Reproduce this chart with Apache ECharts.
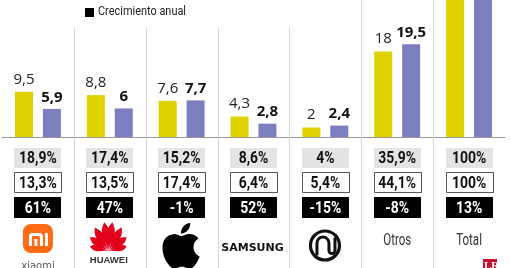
<!DOCTYPE html>
<html><head><meta charset="utf-8">
<script src="https://cdn.jsdelivr.net/npm/echarts/dist/echarts.min.js"></script>
<style>html,body{margin:0;padding:0;background:#fff}#c{width:510px;height:268px}</style>
</head><body><div id="c"></div>
<script>
var categories = ['Xiaomi', 'Huawei', 'Apple', 'Samsung', 'Motorola', 'Otros', 'Total'];
var ventasActual = [9.5, 8.8, 7.6, 4.3, 2, 18, 50.2];
var ventasPrevio = [5.9, 6, 7.7, 2.8, 2.4, 19.5, 44.3];
var cuotaActual = ['18,9%', '17,4%', '15,2%', '8,6%', '4%', '35,9%', '100%'];
var cuotaPrevia = ['13,3%', '13,5%', '17,4%', '6,4%', '5,4%', '44,1%', '100%'];
var crecimientoAnual = ['61%', '47%', '-1%', '52%', '-15%', '-8%', '13%'];
var legendLabel = 'Crecimiento anual';

var COND = 'Roboto, "DejaVu Sans Condensed", sans-serif';
var YELLOW = '#ddd200', PURPLE = '#7b7fbf';
var totalIdx = categories.indexOf('Total');

function fmt(p) { return String(p.value).replace('.', ','); }
function withHiddenTotal(arr) {
  return arr.map(function (v, i) { return i === totalIdx ? { value: v, label: { show: false } } : v; });
}

function tableRow(texts, y, h, bg, stroke, color) {
  return {
    type: 'custom', silent: true, z: 5,
    data: texts.map(function (t, i) { return [i, 0]; }),
    renderItem: function (params, api) {
      var cx = api.coord([api.value(0), 0])[0];
      var w = 47;
      var x0 = Math.round(cx - w / 2) + (stroke ? 0.5 : 0);
      return { type: 'group', children: [
        { type: 'rect', shape: { x: x0, y: y, width: w, height: h },
          style: { fill: bg, stroke: stroke || null, lineWidth: stroke ? 1 : 0 } },
        { type: 'text', x: cx, y: y + h / 2 + 1, scaleX: 0.82,
          style: { text: texts[params.dataIndex], fill: color, font: 'bold 17px ' + COND,
                   align: 'center', verticalAlign: 'middle' } }
      ] };
    }
  };
}

function petal(bx, by, angDeg, L, W) {
  var a = angDeg * Math.PI / 180, dx = Math.sin(a), dy = -Math.cos(a), nx = Math.cos(a), ny = Math.sin(a);
  var pts = [], N = 16, s, t, h;
  for (s = 0; s <= N; s++) { t = s / N; h = W / 2 * Math.sin(Math.PI * Math.pow(t, 1.6)); pts.push([bx + dx * L * t + nx * h, by + dy * L * t + ny * h]); }
  for (s = N; s >= 0; s--) { t = s / N; h = W / 2 * Math.sin(Math.PI * Math.pow(t, 1.6)); pts.push([bx + dx * L * t - nx * h, by + dy * L * t - ny * h]); }
  return pts;
}

var APPLE = 'M12.152 6.896c-.948 0-2.415-1.078-3.96-1.04-2.04.027-3.91 1.183-4.961 3.014-2.117 3.675-.546 9.103 1.519 12.09 1.013 1.454 2.208 3.09 3.792 3.039 1.52-.065 2.09-.987 3.935-.987 1.831 0 2.35.987 3.96.948 1.637-.026 2.676-1.48 3.676-2.948 1.156-1.688 1.636-3.325 1.662-3.415-.039-.013-3.182-1.221-3.22-4.857-.026-3.04 2.48-4.494 2.597-4.559-1.429-2.09-3.623-2.324-4.39-2.376-2-.156-3.675 1.09-4.61 1.09zM15.53 3.83c.843-1.012 1.4-2.427 1.245-3.83-1.207.052-2.662.805-3.532 1.818-.78.896-1.454 2.338-1.273 3.714 1.338.104 2.715-.688 3.559-1.701z';

var decor = {
  type: 'custom', silent: true, z: 1,
  data: categories.map(function (c, i) { return [i, 0]; }),
  renderItem: function (params, api) {
    var i = params.dataIndex;
    var cx = api.coord([i, 0])[0];
    var band = api.size([1, 0])[0];
    var ch = [];
    if (i < categories.length - 1) {
      var sx = Math.round(cx + band / 2) + 0.5;
      ch.push({ type: 'line', shape: { x1: sx, y1: i < 4 ? 28 : 0, x2: sx, y2: 268 },
        style: { stroke: '#d9d9d9', lineWidth: 1 } });
    }
    var name = categories[i];
    if (name === 'Xiaomi') {
      ch.push({ type: 'group', x: cx - 15, y: 224, children: [
        { type: 'rect', shape: { x: 0, y: 0, width: 30, height: 29, r: 8 }, style: { fill: '#ff6a13' } },
        { type: 'path', shape: { pathData: 'M6,22 V12.5 Q6,9 9.5,9 H16.5 Q20,9 20,12.5 V22 H17 V13.5 Q17,12 15.5,12 H9 V22 Z' }, style: { fill: '#fff' } },
        { type: 'rect', shape: { x: 11.5, y: 15, width: 3, height: 7 }, style: { fill: '#fff' } },
        { type: 'rect', shape: { x: 22, y: 9, width: 3, height: 13 }, style: { fill: '#fff' } }
      ] });
      ch.push({ type: 'text', x: cx, y: 266, style: { text: 'xiaomi', fill: '#555', font: '10px "DejaVu Sans", sans-serif', align: 'center', verticalAlign: 'middle' } });
    } else if (name === 'Huawei') {
      var bx = cx - 1.5, by = 251;
      var specs = [[8, 29, 7.5], [30, 27, 7.5], [53, 23, 7], [76, 19, 6]];
      specs.forEach(function (s) {
        ch.push({ type: 'polygon', shape: { points: petal(bx, by, s[0], s[1], s[2]) }, style: { fill: '#e3001b' } });
        ch.push({ type: 'polygon', shape: { points: petal(bx, by, -s[0], s[1], s[2]) }, style: { fill: '#e3001b' } });
      });
      ch.push({ type: 'text', x: cx - 1, y: 260, style: { text: 'HUAWEI', fill: '#333', font: 'bold 9.5px "Liberation Sans", sans-serif', align: 'center', verticalAlign: 'middle' } });
    } else if (name === 'Apple') {
      ch.push({ type: 'group', x: cx - 23.4, y: 223, scaleX: 1.9, scaleY: 1.9, children: [
        { type: 'path', shape: { pathData: APPLE }, style: { fill: '#000' } }
      ] });
    } else if (name === 'Samsung') {
      ch.push({ type: 'text', x: cx - 1, y: 248.5, style: { text: 'SAMSUNG', fill: '#111', font: 'bold 11px "DejaVu Sans", sans-serif', align: 'center', verticalAlign: 'middle' } });
    } else if (name === 'Motorola') {
      ch.push({ type: 'group', x: cx - 0.4, y: 245.5, children: [
        { type: 'circle', shape: { cx: 0, cy: 0, r: 14.5 }, style: { fill: 'none', stroke: '#111', lineWidth: 3.2 } },
        { type: 'path', shape: { pathData: 'M-8,10 L-8,-2.5 A6,6 0 0 1 4,-2.5 L4,5 A3,3 0 0 0 10,5 L10,-8' }, style: { fill: 'none', stroke: '#111', lineWidth: 3 } }
      ] });
    } else {
      ch.push({ type: 'text', x: cx, y: 241, scaleX: 0.72, style: { text: name, fill: '#333', font: '16px ' + COND, align: 'center', verticalAlign: 'middle' } });
    }
    return { type: 'group', children: ch };
  }
};

var chart = echarts.init(document.getElementById('c'), null, { renderer: 'canvas' });
chart.setOption({
  animation: false,
  backgroundColor: '#fff',
  grid: { left: 2, right: 5, top: 0, bottom: 131 },
  xAxis: { type: 'category', data: categories, axisTick: { show: false }, axisLabel: { show: false },
    axisLine: { lineStyle: { color: '#9a9a9a', width: 1 } }, splitLine: { show: false } },
  yAxis: { type: 'value', min: 0, max: 28.8, show: false, splitLine: { show: false } },
  series: [
    { name: 'Actual', type: 'bar', data: withHiddenTotal(ventasActual), barWidth: 18, barGap: '55%', clip: true,
      itemStyle: { color: YELLOW },
      label: { show: true, position: 'top', distance: 5, formatter: fmt, fontFamily: '"Open Sans", sans-serif', fontSize: 15, color: '#222' } },
    { name: 'Previo', type: 'bar', data: withHiddenTotal(ventasPrevio), barWidth: 18, clip: true,
      itemStyle: { color: PURPLE },
      label: { show: true, position: 'top', distance: 4, formatter: fmt, fontFamily: '"Open Sans", sans-serif', fontWeight: 'bold', fontSize: 15, color: '#111' } },
    tableRow(cuotaActual, 148, 20, '#e4e4e4', null, '#111'),
    tableRow(cuotaPrevia, 172.5, 20, '#fff', '#555', '#111'),
    tableRow(crecimientoAnual, 197, 21, '#000', null, '#fff'),
    decor
  ],
  graphic: [
    { type: 'rect', left: 85, top: 8, shape: { width: 9, height: 9 }, style: { fill: '#000' } },
    { type: 'text', left: 98, top: 5, scaleX: 0.81, style: { text: legendLabel, fill: '#222', font: '13.5px ' + COND } },
    { type: 'rect', left: 483, top: 259, shape: { width: 14, height: 12 }, style: { fill: '#c8102e' } },
    { type: 'text', left: 484, top: 261, style: { text: 'LR', fill: '#fff', font: 'bold 11px "Liberation Serif", serif' } }
  ]
});
</script></body></html>
